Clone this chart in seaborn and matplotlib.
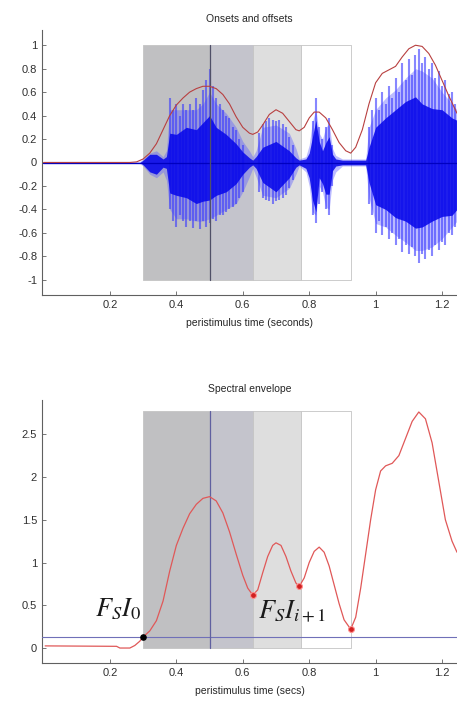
import numpy as np
import pandas as pd
import matplotlib
matplotlib.use("Agg")
from matplotlib import pyplot as plt
import seaborn as sns

sns.set_style("white")
plt.rcParams["font.family"] = ["Liberation Sans", "DejaVu Sans"]
plt.rcParams["mathtext.fontset"] = "stix"

# segment boundaries (seconds)
seg_starts = [0.30, 0.63, 0.775]
seg_ends = [0.63, 0.775, 0.925]
seg_colors = ["#c0c0c2", "#dedede", "#ffffff"]
peak_time = 0.5
threshold = 0.13

# waveform envelope (top panel)
wav_t = [0.0, 0.29, 0.30, 0.32, 0.34, 0.36, 0.37, 0.38, 0.40, 0.43, 0.46, 0.48, 0.50, 0.52, 0.55,
         0.58, 0.60, 0.62, 0.63, 0.64, 0.66, 0.70, 0.74, 0.76, 0.77, 0.79, 0.80, 0.81, 0.82, 0.83,
         0.84, 0.85, 0.86, 0.87, 0.88, 0.90, 0.92, 0.95, 0.97, 0.98, 1.0, 1.03, 1.06, 1.09, 1.12,
         1.14, 1.17, 1.20, 1.23, 1.245]
wav_hi = [0.01, 0.01, 0.03, 0.08, 0.1, 0.05, 0.1, 0.45, 0.45, 0.45, 0.45, 0.5, 0.6, 0.5, 0.42,
          0.3, 0.18, 0.1, 0.05, 0.1, 0.3, 0.32, 0.25, 0.12, 0.03, 0.05, 0.15, 0.35, 0.45, 0.25,
          0.2, 0.3, 0.33, 0.12, 0.06, 0.03, 0.03, 0.03, 0.03, 0.3, 0.45, 0.55, 0.62, 0.72, 0.8,
          0.78, 0.72, 0.6, 0.5, 0.45]
wav_lo = [-0.01, -0.01, -0.03, -0.1, -0.13, -0.08, -0.15, -0.4, -0.48, -0.48, -0.5, -0.5, -0.48, -0.45, -0.4,
          -0.35, -0.25, -0.12, -0.05, -0.12, -0.28, -0.3, -0.22, -0.1, -0.03, -0.08, -0.2, -0.42, -0.45, -0.2,
          -0.25, -0.38, -0.4, -0.15, -0.08, -0.03, -0.03, -0.03, -0.03, -0.3, -0.52, -0.55, -0.62, -0.68, -0.75,
          -0.75, -0.72, -0.65, -0.55, -0.5]
core_hi = [0.0, 0.0, 0.02, 0.07, 0.07, 0.03, 0.05, 0.25, 0.24, 0.3, 0.28, 0.34, 0.4, 0.3, 0.24,
           0.16, 0.09, 0.04, 0.02, 0.05, 0.13, 0.18, 0.1, 0.04, 0.02, 0.03, 0.08, 0.22, 0.36, 0.18,
           0.1, 0.17, 0.22, 0.07, 0.03, 0.02, 0.02, 0.02, 0.02, 0.13, 0.3, 0.38, 0.45, 0.52, 0.56,
           0.5, 0.46, 0.45, 0.38, 0.36]
core_lo = [0.0, 0.0, -0.02, -0.08, -0.1, -0.04, -0.05, -0.26, -0.28, -0.3, -0.35, -0.33, -0.32, -0.28, -0.25,
           -0.18, -0.1, -0.04, -0.02, -0.05, -0.17, -0.25, -0.13, -0.04, -0.02, -0.05, -0.13, -0.32, -0.42, -0.13,
           -0.18, -0.27, -0.27, -0.07, -0.03, -0.02, -0.02, -0.02, -0.02, -0.17, -0.36, -0.4, -0.47, -0.5, -0.56,
           -0.55, -0.5, -0.46, -0.45, -0.4]
spike_t = [0.38, 0.39, 0.40, 0.41, 0.42, 0.43, 0.44, 0.45, 0.46, 0.47, 0.48, 0.49, 0.50, 0.51, 0.52,
           0.53, 0.54, 0.55, 0.56, 0.57, 0.58, 0.59, 0.60,
           0.65, 0.66, 0.67, 0.68, 0.69, 0.70, 0.71, 0.72, 0.73, 0.74, 0.75,
           0.81, 0.82, 0.83, 0.84, 0.85, 0.86, 0.87,
           0.98, 0.99, 1.0, 1.01, 1.02, 1.03, 1.04, 1.05, 1.06, 1.07, 1.08, 1.09, 1.10, 1.11, 1.12,
           1.13, 1.14, 1.15, 1.16, 1.17, 1.18, 1.19, 1.20, 1.21, 1.22, 1.23, 1.24]
spike_hi = [0.55, 0.45, 0.5, 0.4, 0.5, 0.45, 0.5, 0.45, 0.55, 0.5, 0.62, 0.7, 0.8, 0.65, 0.55,
            0.5, 0.45, 0.4, 0.38, 0.3, 0.28, 0.2, 0.15,
            0.25, 0.33, 0.35, 0.38, 0.36, 0.35, 0.36, 0.33, 0.3, 0.22, 0.15,
            0.35, 0.55, 0.3, 0.2, 0.3, 0.38, 0.15,
            0.3, 0.45, 0.55, 0.45, 0.6, 0.5, 0.65, 0.55, 0.72, 0.6, 0.85, 0.7, 0.88, 0.75, 0.92,
            0.97, 0.85, 0.9, 0.8, 0.85, 0.72, 0.78, 0.65, 0.7, 0.58, 0.6, 0.5]
spike_lo = [-0.4, -0.5, -0.55, -0.45, -0.5, -0.55, -0.5, -0.56, -0.5, -0.57, -0.5, -0.55, -0.52, -0.48, -0.5,
            -0.45, -0.45, -0.42, -0.4, -0.38, -0.35, -0.3, -0.25,
            -0.25, -0.3, -0.32, -0.33, -0.35, -0.33, -0.32, -0.3, -0.28, -0.22, -0.15,
            -0.45, -0.52, -0.35, -0.25, -0.4, -0.45, -0.2,
            -0.35, -0.45, -0.6, -0.5, -0.62, -0.55, -0.65, -0.6, -0.7, -0.65, -0.76, -0.7, -0.78, -0.72, -0.8,
            -0.86, -0.78, -0.82, -0.75, -0.8, -0.7, -0.75, -0.68, -0.7, -0.6, -0.62, -0.55]

# amplitude envelope (top panel, red)
amp_t = [0.0, 0.26, 0.28, 0.30, 0.32, 0.34, 0.36, 0.38, 0.40, 0.42, 0.44, 0.46, 0.48, 0.50, 0.52,
         0.54, 0.56, 0.58, 0.60, 0.62, 0.63, 0.645, 0.66, 0.68, 0.70, 0.72, 0.74, 0.76, 0.77, 0.785,
         0.80, 0.815, 0.83, 0.85, 0.87, 0.89, 0.91, 0.925, 0.94, 0.96, 0.98, 1.0, 1.02, 1.04, 1.06,
         1.08, 1.10, 1.12, 1.14, 1.16, 1.18, 1.20, 1.22, 1.245]
amp_v = [0.0, 0.0, 0.005, 0.03, 0.08, 0.16, 0.28, 0.4, 0.49, 0.55, 0.6, 0.63, 0.65, 0.65, 0.63,
         0.58, 0.5, 0.39, 0.3, 0.25, 0.24, 0.26, 0.32, 0.41, 0.45, 0.42, 0.35, 0.28, 0.27, 0.3,
         0.38, 0.43, 0.43, 0.38, 0.28, 0.17, 0.1, 0.08, 0.13, 0.28, 0.5, 0.68, 0.76, 0.79, 0.82,
         0.9, 0.97, 1.0, 0.99, 0.93, 0.83, 0.7, 0.57, 0.42]

# spectral envelope (bottom panel)
spec_t = [0.005, 0.22, 0.23, 0.26, 0.275, 0.29, 0.30, 0.32, 0.34, 0.36, 0.38, 0.40, 0.42, 0.44, 0.46,
          0.48, 0.50, 0.52, 0.54, 0.56, 0.58, 0.60, 0.615, 0.63, 0.645, 0.66, 0.675, 0.69, 0.70, 0.715,
          0.73, 0.745, 0.76, 0.77, 0.785, 0.80, 0.815, 0.83, 0.845, 0.86, 0.875, 0.89, 0.905, 0.925, 0.94,
          0.955, 0.97, 0.985, 1.0, 1.015, 1.03, 1.05, 1.07, 1.09, 1.11, 1.13, 1.15, 1.17, 1.19, 1.21,
          1.23, 1.245]
spec_v = [0.025, 0.02, 0.0, 0.0, 0.03, 0.08, 0.13, 0.2, 0.32, 0.55, 0.9, 1.2, 1.4, 1.57, 1.68,
          1.75, 1.77, 1.72, 1.58, 1.36, 1.1, 0.85, 0.7, 0.62, 0.68, 0.88, 1.07, 1.2, 1.23, 1.2,
          1.07, 0.9, 0.76, 0.72, 0.82, 1.0, 1.13, 1.18, 1.12, 0.96, 0.74, 0.52, 0.33, 0.22, 0.36,
          0.7, 1.1, 1.5, 1.85, 2.07, 2.13, 2.16, 2.25, 2.45, 2.65, 2.76, 2.68, 2.4, 1.95, 1.5,
          1.25, 1.12]
onset_t = [0.30]
onset_v = [0.13]
offset_t = [0.63, 0.77, 0.925]
offset_v = [0.62, 0.72, 0.22]

wave = pd.DataFrame({"t": wav_t, "hi": wav_hi, "lo": wav_lo, "chi": core_hi, "clo": core_lo})
amp = pd.DataFrame({"t": amp_t, "v": amp_v})
spec = pd.DataFrame({"t": spec_t, "v": spec_v})

fig = plt.figure(figsize=(4.57, 7.11), dpi=100)
ax1 = fig.add_axes([42 / 457, 1 - 295 / 711, 415 / 457, 265 / 711])
ax2 = fig.add_axes([42 / 457, 1 - 663 / 711, 415 / 457, 263 / 711])


def draw_segments(ax, y0, y1):
    for s, e, c in zip(seg_starts, seg_ends, seg_colors):
        ax.fill_between([s, e], y0, y1, color=c, edgecolor="#c4c4c4", lw=0.6, zorder=1)
    ax.fill_between([peak_time, seg_ends[0]], y0, y1, color="#c4c4cc", lw=0, zorder=1)


# top panel
draw_segments(ax1, -1, 1)
ax1.fill_between(wave["t"], wave["lo"], wave["hi"], color="#5a5aff", alpha=0.4, lw=0, zorder=2)
ax1.vlines(spike_t, spike_lo, spike_hi, color="#3838ff", lw=1.5, alpha=0.6, zorder=3)
ax1.fill_between(wave["t"], wave["clo"], wave["chi"], color="#0808ea", alpha=0.88, lw=0, zorder=3)
ax1.plot([0, 1.25], [0, 0], color="#0000c0", lw=0.9, zorder=3)
ax1.plot([peak_time, peak_time], [-1, 1], color="#505068", lw=0.9, zorder=4)
sns.lineplot(data=amp, x="t", y="v", ax=ax1, color="#b84040", lw=0.8, zorder=5)
ax1.set_xlim(-0.0045, 1.245)
ax1.set_ylim(-1.13, 1.13)
ax1.set_yticks(np.arange(-1, 1.01, 0.2))
ax1.set_yticklabels(["-1", "-0.8", "-0.6", "-0.4", "-0.2", "0", "0.2", "0.4", "0.6", "0.8", "1"])
ax1.set_xticks([0.2, 0.4, 0.6, 0.8, 1.0, 1.2])
ax1.set_xticklabels(["0.2", "0.4", "0.6", "0.8", "1", "1.2"])
ax1.set_title("Onsets and offsets", fontsize=7.5, pad=6)
ax1.set_xlabel("peristimulus time (seconds)", fontsize=7.5, labelpad=6)
ax1.set_ylabel("")

# bottom panel
draw_segments(ax2, 0, 2.77)
ax2.axhline(threshold, color="#7070b8", lw=0.8, zorder=3)
ax2.plot([peak_time, peak_time], [0, 2.77], color="#6060a0", lw=0.9, zorder=3)
sns.lineplot(data=spec, x="t", y="v", ax=ax2, color="#e05858", lw=0.9, zorder=4)
ax2.scatter(onset_t, onset_v, s=14, color="black", zorder=5)
ax2.scatter(offset_t, offset_v, s=18, color="#d02020", edgecolor="#ff9090", lw=0.8, zorder=5)
ax2.text(0.155, 0.37, r"$F_S I_0$", fontsize=19, color="#1a1a1a", zorder=6)
ax2.text(0.645, 0.34, r"$F_S I_{i+1}$", fontsize=19, color="#1a1a1a", zorder=6)
ax2.set_xlim(-0.0045, 1.245)
ax2.set_ylim(-0.175, 2.9)
ax2.set_yticks([0, 0.5, 1, 1.5, 2, 2.5])
ax2.set_yticklabels(["0", "0.5", "1", "1.5", "2", "2.5"])
ax2.set_xticks([0.2, 0.4, 0.6, 0.8, 1.0, 1.2])
ax2.set_xticklabels(["0.2", "0.4", "0.6", "0.8", "1", "1.2"])
ax2.set_title("Spectral envelope", fontsize=7.5, pad=6)
ax2.set_xlabel("peristimulus time (secs)", fontsize=7.5, labelpad=6)
ax2.set_ylabel("")

for ax in (ax1, ax2):
    for side in ("top", "right"):
        ax.spines[side].set_visible(False)
    for side in ("left", "bottom"):
        ax.spines[side].set_color("#606060")
        ax.spines[side].set_linewidth(0.8)
    ax.tick_params(direction="in", length=3, width=0.6, color="#606060", labelsize=8, labelcolor="#303030",
                   left=True, bottom=True)

fig.savefig("out.png", dpi=100)
